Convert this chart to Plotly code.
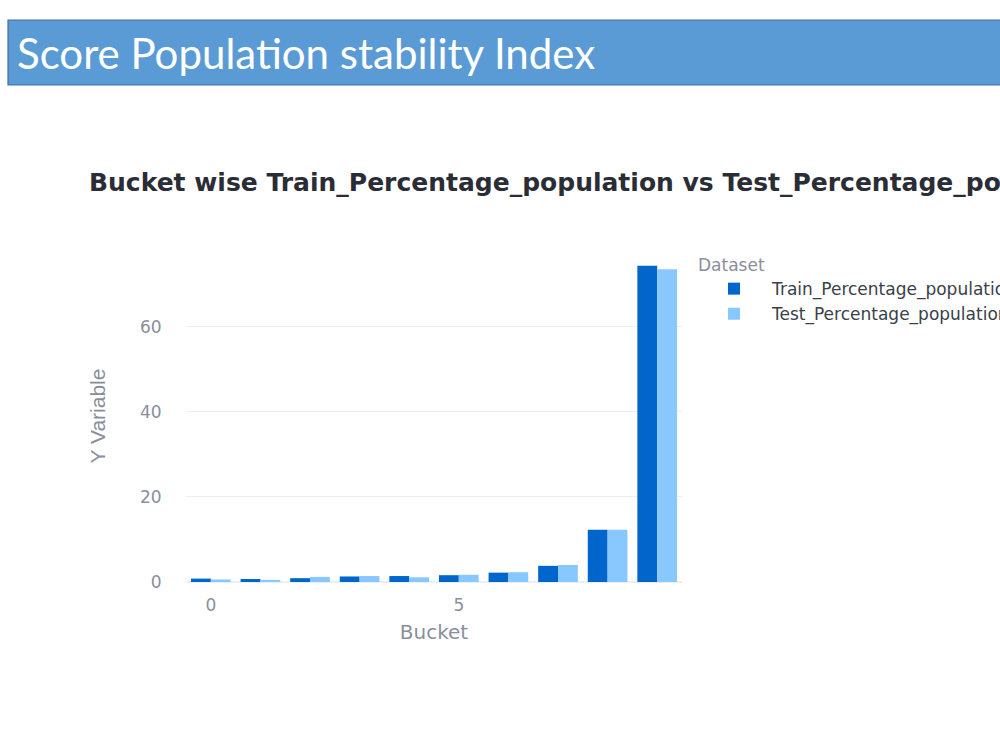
import plotly.graph_objects as go

buckets = [0, 1, 2, 3, 4, 5, 6, 7, 8, 9]
train_pct = [0.8, 0.7, 0.9, 1.3, 1.4, 1.6, 2.2, 3.8, 12.3, 74.3]
test_pct = [0.6, 0.5, 1.2, 1.4, 1.1, 1.7, 2.3, 4.0, 12.3, 73.5]

W, H = 1000, 750
def px(x):
    return x / W
def py(y):
    return 1 - y / H

fig = go.Figure()
fig.add_trace(go.Bar(x=buckets, y=train_pct, name="Train_Percentage_population",
                     marker=dict(color="#0066CC", line=dict(width=0))))
fig.add_trace(go.Bar(x=buckets, y=test_pct, name="Test_Percentage_population",
                     marker=dict(color="#88C8FF", line=dict(width=0))))

tick_font = dict(family="DejaVu Sans", size=17, color="#8A8E9C")

fig.update_layout(
    width=W, height=H,
    margin=dict(l=0, r=0, t=0, b=0, autoexpand=False),
    paper_bgcolor="white", plot_bgcolor="white",
    barmode="group", bargap=0.2, bargroupgap=0,
    showlegend=True,
    legend=dict(
        title=dict(text="Dataset", font=dict(family="DejaVu Sans", size=17, color="#8A8E9C")),
        font=dict(family="DejaVu Sans", size=17, color="#3A3F4A"),
        x=px(696), y=py(249), xanchor="left", yanchor="top",
        bgcolor="rgba(0,0,0,0)", tracegroupgap=0, itemwidth=66,
    ),
    xaxis=dict(
        domain=[px(186), px(682)], range=[-0.5, 9.5], automargin=False,
        tickmode="linear", tick0=0, dtick=5,
        tickfont=tick_font, showgrid=False, zeroline=False,
        title=dict(text="Bucket", font=dict(family="DejaVu Sans", size=20, color="#8A8E9C"), standoff=10),
        ticks="outside", ticklen=8, tickcolor="white",
    ),
    yaxis=dict(
        domain=[py(582), py(250)], range=[0, 78], automargin=False,
        tickmode="linear", tick0=0, dtick=20,
        tickfont=tick_font, showgrid=True, gridcolor="#EBEEF4", gridwidth=1,
        zeroline=True, zerolinecolor="#EBEEF4", zerolinewidth=2,
        title=dict(text="Y Variable", font=dict(family="Liberation Sans", size=21, color="#8A8E9C"), standoff=28),
        ticks="outside", ticklen=20, tickcolor="white",
    ),
    shapes=[
        dict(type="rect", xref="paper", yref="paper",
             x0=px(8), x1=px(1004), y0=py(85), y1=py(20),
             fillcolor="#5B9BD5", line=dict(color="#41719C", width=1.2), layer="above"),
    ],
    annotations=[
        dict(text="Score Population stability Index", xref="paper", yref="paper",
             x=px(15), y=py(53), xanchor="left", yanchor="middle", showarrow=False,
             font=dict(family="Lato", size=42, color="white")),
        dict(text="<b>Bucket wise Train_Percentage_population vs Test_Percentage_population</b>",
             xref="paper", yref="paper", x=px(87), y=py(182), xanchor="left", yanchor="middle",
             showarrow=False,
             font=dict(family="DejaVu Sans", size=25, color="#2A2D36")),
    ],
)

fig.write_html("out.html")
